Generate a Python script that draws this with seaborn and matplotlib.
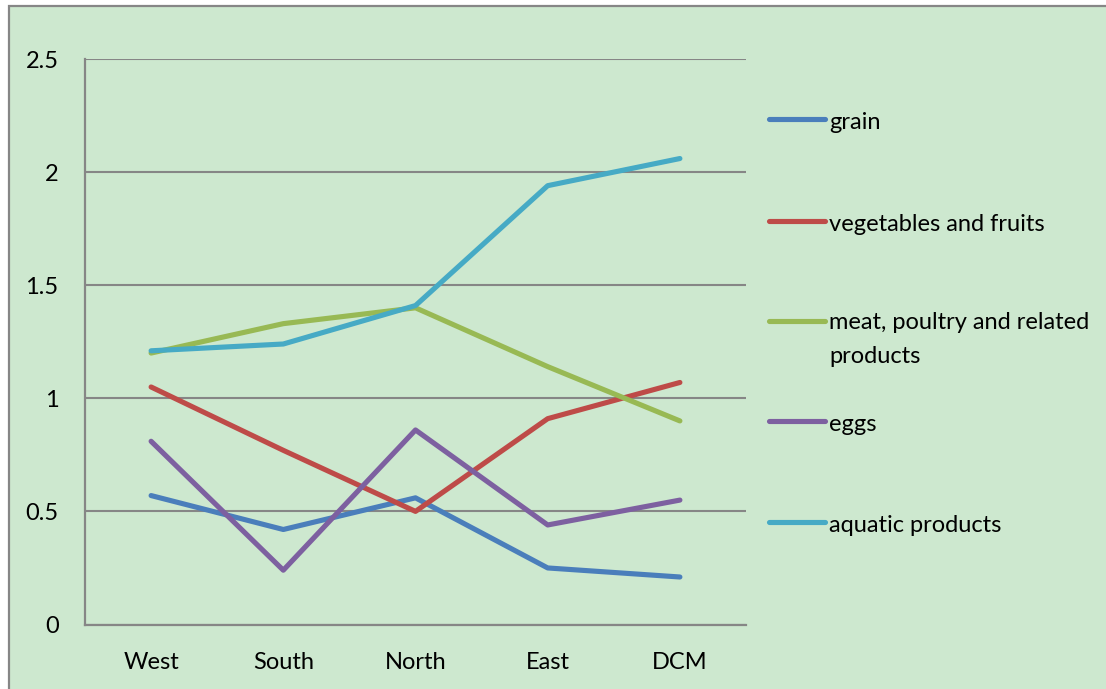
import matplotlib
matplotlib.use("Agg")
import matplotlib.pyplot as plt
import seaborn as sns
import pandas as pd
from matplotlib.patches import Rectangle
from matplotlib.lines import Line2D

regions = ["West", "South", "North", "East", "DCM"]
grain = [0.57, 0.42, 0.56, 0.25, 0.21]
vegetables = [1.05, 0.77, 0.50, 0.91, 1.07]
meat = [1.20, 1.33, 1.40, 1.14, 0.90]
eggs = [0.81, 0.24, 0.86, 0.44, 0.55]
aquatic = [1.21, 1.24, 1.41, 1.94, 2.06]

series_names = ["grain", "vegetables and fruits", "meat, poultry and related products",
                "eggs", "aquatic products"]
legend_labels = ["grain", "vegetables and fruits", "meat, poultry and related\nproducts",
                 "eggs", "aquatic products"]
series_values = [grain, vegetables, meat, eggs, aquatic]
colors = ["#4A7EBB", "#BE4B48", "#98B954", "#7D60A0", "#46AAC5"]
yticks = [0, 0.5, 1, 1.5, 2, 2.5]
ytick_labels = ["0", "0.5", "1", "1.5", "2", "2.5"]

rows = []
for name, vals in zip(series_names, series_values):
    for r, v in zip(regions, vals):
        rows.append({"region": r, "value": v, "series": name})
df = pd.DataFrame(rows)

sns.set_theme(style="white")
plt.rcParams["font.family"] = ["Lato", "DejaVu Sans"]

W, H = 1106, 689
FS = 17
fig = plt.figure(figsize=(W / 100, H / 100), dpi=100)
fig.patch.set_facecolor("white")
bg = "#CDE8CF"
grey = "#868686"

# outer chart area frame
fig.patches.append(Rectangle((9 / W, -0.1), 1.2, (H - 6) / H + 0.1, transform=fig.transFigure,
                             facecolor=bg, edgecolor=grey, linewidth=1.6, zorder=-5))

ax = fig.add_axes([85 / W, 1 - 624.5 / H, (746 - 85) / W, (624.5 - 59) / H])
ax.set_facecolor("none")
ax.set_zorder(2)

sns.lineplot(data=df, x="region", y="value", hue="series", hue_order=series_names,
             palette=colors, linewidth=3.7, legend=False, sort=False, ax=ax,
             solid_capstyle="round", zorder=3)

ax.set_xlim(-0.5, len(regions) - 0.5)
ax.set_ylim(0, 2.5)
ax.set_yticks(yticks)
ax.set_yticklabels(ytick_labels)
ax.set_xticks(range(len(regions)))
ax.set_xticklabels(regions)
ax.set_xlabel("")
ax.set_ylabel("")
ax.tick_params(axis="both", length=0, labelsize=FS, colors="black")
ax.tick_params(axis="y", pad=19)
ax.tick_params(axis="x", pad=20)
ax.grid(axis="y", color=grey, linewidth=1.5, zorder=1)
ax.set_axisbelow(True)
for s in ["top", "right"]:
    ax.spines[s].set_visible(False)
for s in ["left", "bottom"]:
    ax.spines[s].set_color(grey)
    ax.spines[s].set_linewidth(1.6)

# legend (manual layout to match the reference spacing)
legend_y = [119, 221, 321, 421, 522]
line_gap = 32
for lab, col, py in zip(legend_labels, colors, legend_y):
    yf = 1 - py / H
    fig.add_artist(Line2D([769 / W, 825 / W], [yf, yf], transform=fig.transFigure,
                          color=col, linewidth=3.7, solid_capstyle="round"))
    n_extra = lab.count("\n")
    fig.text(829 / W, 1 - (py + 10 + line_gap * n_extra) / H, lab, fontsize=FS,
             va="baseline", ha="left", linespacing=1.75, color="black")

fig.savefig("out.png", dpi=100, facecolor=fig.get_facecolor())
